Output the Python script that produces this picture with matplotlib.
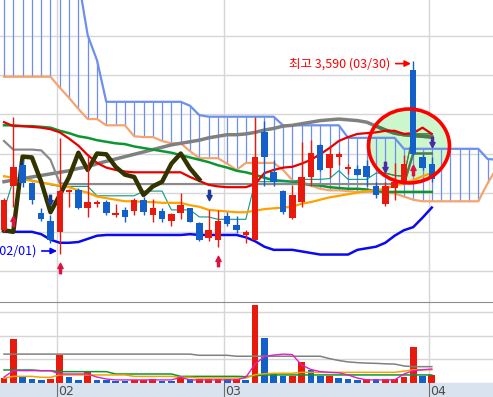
import numpy as np
import matplotlib.pyplot as plt
from matplotlib.patches import Ellipse
from matplotlib.path import Path
from matplotlib.transforms import offset_copy

# daily candles, last sessions of January up to 1 April
opens = [2510, 2790, 2925, 2810, 2620, 2570, 2500, 2755, 2770, 2655,
         2680, 2690, 2610, 2640, 2635, 2705, 2605, 2635, 2570, 2620,
         2650, 2555, 2460, 2450, 2600, 2545, 2480, 2450, 3140, 2880,
         2760, 2590, 2690, 2850, 3055, 2910, 2980, 2900, 2900, 2920,
         2790, 2680, 2780, 2820, 3535, 2980, 2935]
highs = [2715, 3235, 2960, 2815, 2655, 2605, 3100, 2775, 2780, 2995,
         2705, 2705, 2680, 2660, 2715, 2725, 2710, 2650, 2620, 2750,
         2655, 2565, 2640, 2640, 2625, 2600, 2510, 3235, 3205, 2960,
         2765, 2800, 3075, 3085, 3060, 3045, 3010, 2935, 2925, 2960,
         2820, 2820, 2940, 2990, 3590, 2995, 2975]
lows = [2500, 2660, 2785, 2680, 2570, 2430, 2360, 2660, 2645, 2595,
        2660, 2610, 2595, 2565, 2605, 2605, 2565, 2565, 2535, 2585,
        2560, 2440, 2440, 2405, 2535, 2490, 2430, 2445, 2790, 2790,
        2615, 2580, 2660, 2795, 2890, 2850, 2925, 2870, 2860, 2790,
        2715, 2665, 2705, 2815, 2990, 2895, 2815]
closes = [2705, 2915, 2810, 2705, 2585, 2450, 2760, 2770, 2655, 2690,
          2690, 2620, 2620, 2595, 2705, 2625, 2655, 2585, 2615, 2670,
          2565, 2450, 2510, 2570, 2550, 2510, 2500, 2980, 2975, 2820,
          2625, 2735, 2850, 3005, 2895, 3000, 2995, 2915, 2865, 2850,
          2735, 2790, 2820, 2935, 3000, 2905, 2835]

# volume (thousand shares) and bar colour r=up b=down
volume = [20, 186, 27, 18, 14, 18, 118, 27, 14, 46,
          14, 14, 10, 10, 14, 14, 17, 10, 10, 28,
          17, 17, 17, 17, 17, 17, 14, 329, 190, 38,
          31, 31, 90, 55, 31, 31, 21, 17, 14, 17,
          17, 17, 17, 27, 152, 31, 35]
vol_dir = "rrbbbrrbbrbbbbrrrbbrbrrrbrbrbbbrrbbrbbbrbrrrrbr"

# moving averages on price
ma_red = [3200, 3175, 3175, 3170, 3165, 3155, 3135, 3095, 3050, 2990,
          2940, 2910, 2895, 2885, 2880, 2880, 2880, 2880, 2880, 2880,
          2850, 2825, 2800, 2790, 2785, 2785, 2785, 2805, 2875, 2895,
          2910, 2915, 2935, 2960, 2995, 3035, 3080, 3105, 3125, 3130,
          3135, 3145, 3145, 3125, 3130, 3165, 3125]
ma_green = [3180, 3180, 3175, 3175, 3170, 3165, 3145, 3130, 3110, 3100,
            3085, 3075, 3065, 3060, 3045, 3035, 3025, 3015, 3005, 2990,
            2975, 2960, 2945, 2925, 2910, 2890, 2880, 2865, 2845, 2830,
            2825, 2820, 2810, 2800, 2795, 2785, 2780, 2775, 2775, 2770,
            2760, 2755, 2755, 2755, 2755, 2755, 2755]
ma_gray = [2820, 2830, 2840, 2850, 2860, 2870, 2880, 2890, 2905, 2915,
           2935, 2950, 2965, 2980, 2995, 3010, 3025, 3040, 3055, 3065,
           3075, 3085, 3100, 3110, 3120, 3120, 3125, 3135, 3150, 3160,
           3175, 3180, 3190, 3200, 3210, 3215, 3220, 3215, 3210, 3200,
           3175, 3150, 3130, 3120, 3115, 3110, 3105]
bb_mid = [2855, 2845, 2835, 2825, 2815, 2805, 2795, 2785, 2765, 2750,
          2725, 2715, 2705, 2695, 2695, 2690, 2690, 2685, 2685, 2685,
          2670, 2660, 2640, 2635, 2630, 2625, 2625, 2635, 2645, 2650,
          2655, 2660, 2680, 2690, 2705, 2720, 2730, 2740, 2750, 2760,
          2765, 2775, 2795, 2810, 2830, 2855, 2875]
bb_low = [2500, 2500, 2500, 2500, 2485, 2450, 2430, 2430, 2435, 2455,
          2475, 2480, 2480, 2480, 2480, 2480, 2480, 2480, 2480, 2480,
          2485, 2480, 2480, 2480, 2480, 2480, 2465, 2440, 2405, 2385,
          2385, 2385, 2375, 2365, 2355, 2355, 2355, 2355, 2385, 2395,
          2405, 2430, 2475, 2510, 2530, 2590, 2655]

# ichimoku
tenkan = [2640, 2830, 2845, 2830, 2815, 2800, 2790, 2790, 2790, 2790,
          2730, 2730, 2730, 2730, 2730, 2760, 2760, 2760, 2640, 2640,
          2640, 2595, 2595, 2580, 2580, 2580, 2580, 2820, 2820, 2820,
          2820, 2820, 2835, 2835, 2835, 2840, 2890, 2835, 2835, 2835,
          2875, 2875, 2860, 2855, 3125, 3125, 3125]
kijun = [3080, 3025, 3025, 3025, 3020, 2960, 2810, 2805, 2805, 2805,
         2805, 2805, 2805, 2805, 2805, 2805, 2805, 2805, 2805, 2805,
         2805, 2805, 2805, 2805, 2805, 2805, 2805, 2805, 2805, 2805,
         2805, 2805, 2805, 2805, 2805, 2805, 2805, 2805, 2805, 2805,
         2805, 2805, 2805, 2805, 3000, 3000, 3000]
span_b = [4150, 4150, 4150, 4150, 4150, 4150, 4150, 4150, 4110, 3755,
          3595, 3330, 3330, 3330, 3330, 3330, 3330, 3330, 3330, 3330,
          3305, 3245, 3235, 3235, 3235, 3235, 3235, 3235, 3235, 3235,
          3180, 3180, 3180, 3180, 3180, 3180, 3180, 3100, 3100, 3100,
          3100, 3100, 3100, 3030, 3030, 3030, 3030, 3030, 3030, 3030,
          3030, 3030, 2965, 2960]
span_a = [3490, 3490, 3490, 3490, 3490, 3490, 3420, 3355, 3285, 3220,
          3220, 3180, 3180, 3180, 3110, 3105, 3105, 3080, 3065, 3065,
          3015, 2970, 2970, 2970, 2935, 2895, 2940, 2940, 2940, 2940,
          2895, 2830, 2805, 2795, 2775, 2765, 2765, 2760, 2755, 2755,
          2755, 2750, 2745, 2725, 2705, 2695, 2695, 2695, 2695, 2695,
          2695, 2695, 2810, 2910]
lag = 25

# volume averages
vol_ma_green = [55, 55, 55, 55, 52, 52, 48, 48, 48, 48,
                48, 48, 38, 38, 38, 38, 38, 38, 38, 28,
                28, 28, 28, 28, 28, 28, 27, 30, 34, 34,
                34, 34, 34, 34, 34, 34, 34, 34, 34, 34,
                34, 34, 34, 34, 34, 34, 34]
vol_ma_orange = [20, 28, 28, 28, 24, 24, 34, 34, 34, 34,
                 34, 34, 34, 34, 28, 28, 28, 28, 28, 24,
                 24, 21, 21, 21, 21, 21, 21, 35, 39, 41,
                 41, 41, 45, 45, 45, 45, 45, 45, 45, 45,
                 45, 45, 45, 50, 56, 56, 56]
vol_ma_pink = [25, 52, 52, 52, 52, 52, 38, 38, 38, 38,
               25, 17, 13, 13, 13, 13, 13, 13, 13, 24,
               13, 13, 13, 13, 13, 13, 24, 80, 112, 118,
               122, 120, 76, 57, 48, 45, 43, 34, 21, 13,
               13, 13, 13, 38, 52, 56, 59]
vol_ma_gray = [122, 122, 122, 122, 122, 122, 122, 122, 122, 122,
               122, 122, 122, 122, 122, 122, 122, 122, 122, 122,
               122, 117, 117, 117, 117, 113, 113, 113, 113, 113,
               113, 113, 113, 113, 113, 103, 95, 89, 86, 84,
               83, 81, 80, 72, 69, 69, 69]

month_first = [6, 24, 46]
month_labels = ["02", "03", "04"]
buy_sig = [1, 6, 23, 44]
sell_sig = [5, 22]
sell_sig2 = [41, 46]
hi_date = "03/30"
lo_date = "02/01"

RED = "#e81a0e"
BLUE = "#1260c8"
GRID = "#d6d6d6"

idx = np.arange(len(closes))
cidx = np.arange(len(span_a))
o, h, l, c = (np.array(v, float) for v in (opens, highs, lows, closes))

fig = plt.figure(figsize=(4.93, 3.97), dpi=100)
fig.patch.set_facecolor("#d9e3ef")
ax = fig.add_axes([0, 95 / 397, 1, 302 / 397])
axv = fig.add_axes([0, 14 / 397, 1, 81 / 397])
axb = fig.add_axes([0, 0, 1, 14 / 397])

xlim = (-0.43, 52.58)
for a in (ax, axv, axb):
    a.set_xlim(*xlim)
    a.set_xticks([])
    a.set_yticks([])
ax.set_ylim(2052, 3980)
axv.set_ylim(0, 342)
axb.set_ylim(0, 1)
axb.set_facecolor("#d9e3ef")
for s in ax.spines.values():
    s.set_visible(False)
for s in axb.spines.values():
    s.set_visible(False)
axv.spines["left"].set_visible(False)
axv.spines["right"].set_visible(False)
axv.spines["top"].set_color("#8c8c8c")
axv.spines["bottom"].set_color("#8c8c8c")

# grid
for p in range(2250, 3751, 250):
    ax.axhline(p, color=GRID, lw=1, zorder=0.3)
for v in (100, 200, 300):
    axv.axhline(v, color=GRID, lw=1, zorder=0.3)
bounds = [m - 0.35 for m in month_first]
for b in bounds:
    ax.axvline(b, color=GRID, lw=1, zorder=0.3)
    axv.axvline(b, color=GRID, lw=1, zorder=0.3)
    axb.axvline(b, color="#6e6e6e", lw=0.8)
for b, lab in zip(bounds, month_labels):
    axb.text(b + 0.12, 0.14, lab, ha="left", va="baseline", fontsize=9,
             color="#4a4a4a", family=["Liberation Sans Narrow", "DejaVu Sans"])

# highlight circle fill
CIRC_C = (43.55, 3048)
CIRC_W, CIRC_H = 8.7, 472
disc = Ellipse(CIRC_C, CIRC_W, CIRC_H, facecolor="#ccf7cc", edgecolor="none", zorder=0.8)
ax.add_patch(disc)

# cloud
top = np.maximum(span_a, span_b)
bot = np.minimum(span_a, span_b)
ax.vlines(cidx, bot, top, color="#6d8fee", lw=0.9, zorder=1)
ax.plot(cidx, span_b, color="#6d8fee", lw=1.6, zorder=1.2)
ax.plot(cidx, span_a, color="#f5a470", lw=1.6, zorder=1.2)

# averages
ax.plot(idx, ma_gray, color="#808080", lw=2.5, zorder=2)
ax.plot(idx, ma_green, color="#0c9632", lw=1.8, zorder=2)
ax.plot(idx, ma_red, color="#e60000", lw=1.6, zorder=2.1)
ax.plot(idx, kijun, color="#8a8a8a", lw=1.6, zorder=2)
ax.plot(idx, tenkan, color="#0a9a80", lw=0.8, zorder=2)
ax.plot(idx, bb_mid, color="#ffa200", lw=1.6, zorder=2)
ax.plot(idx, bb_low, color="#0a0af0", lw=1.8, zorder=2)
for vals, lw in ((ma_gray, 2.5), (kijun, 1.6), (tenkan, 0.9)):
    ln, = ax.plot(idx, vals, color="#4b7d4b", lw=lw, zorder=2.05)
    ln.set_clip_path(disc)
ax.plot(idx[:-lag], c[lag:], color="#333300", lw=3.2, zorder=2.5,
        solid_joinstyle="round")

# candles
up = c >= o
cols = np.where(up, RED, BLUE)
ax.vlines(idx, l, h, colors=cols, lw=1, zorder=3)
ax.bar(idx, np.maximum(np.abs(c - o), 9), bottom=np.minimum(o, c), width=0.7,
       color=cols, linewidth=0, zorder=3.1)

# signal arrows
arrow = Path([(-0.2, -1), (0.2, -1), (0.2, 0), (0.5, 0), (0, 1), (-0.5, 0),
              (-0.2, 0), (-0.2, -1)], closed=True)
arrow_dn = Path(arrow.vertices * [1, -1], closed=True)
below = offset_copy(ax.transData, fig=fig, y=-10.5, units="points")
above = offset_copy(ax.transData, fig=fig, y=10.8, units="points")
ax.plot(buy_sig, l[buy_sig], ls="none", marker=arrow, ms=7.5, color="#dc1240",
        transform=below, zorder=4)
ax.plot(sell_sig, h[sell_sig], ls="none", marker=arrow_dn, ms=7.5, color="#1c3c9c",
        transform=above, zorder=4)
ax.plot(sell_sig2, h[sell_sig2], ls="none", marker=arrow_dn, ms=7.5, color="#4a2ca6",
        transform=above, zorder=4)

# ring
ax.add_patch(Ellipse(CIRC_C, CIRC_W, CIRC_H, fill=False, edgecolor="#ff0000",
                     lw=2.6, zorder=6))

# high / low labels
kfont = ["Noto Sans CJK KR", "DejaVu Sans"]
hi_i = int(np.argmax(h))
lo_i = int(np.argmin(l))
tip_hi = offset_copy(ax.transData, fig=fig, x=-1.6, y=-1.8, units="points")
ax.annotate("", xy=(hi_i, h[hi_i]), xycoords=tip_hi, xytext=(-11, 0),
            textcoords="offset points", zorder=7,
            arrowprops=dict(arrowstyle="-|>", color="#ff0000", lw=1.2,
                            mutation_scale=9, shrinkA=0, shrinkB=0))
ax.annotate(f"최고 {int(h[hi_i]):,} ({hi_date})", xy=(hi_i, h[hi_i]),
            xytext=(-16.7, -1.8), textcoords="offset points", ha="right",
            va="center", fontsize=9, color="#ff0000", family=kfont, zorder=7)
tip_lo = offset_copy(ax.transData, fig=fig, x=-2, y=2, units="points")
ax.annotate("", xy=(lo_i, l[lo_i]), xycoords=tip_lo, xytext=(-11, 0),
            textcoords="offset points", zorder=7,
            arrowprops=dict(arrowstyle="-|>", color="#0000ff", lw=1.2,
                            mutation_scale=9, shrinkA=0, shrinkB=0))
ax.annotate(f"최저 {int(l[lo_i]):,} ({lo_date})", xy=(lo_i, l[lo_i]),
            xytext=(-17.1, 2), textcoords="offset points", ha="right",
            va="center", fontsize=9, color="#0000ff", family=kfont, zorder=7)

# volume pane
vcols = [RED if d == "r" else BLUE for d in vol_dir]
axv.bar(idx, volume, width=0.72, color=vcols, linewidth=0, zorder=2)
axv.plot(idx, vol_ma_gray, color="#808080", lw=1.1, zorder=3)
axv.plot(idx, vol_ma_green, color="#0c9632", lw=1.1, zorder=3)
axv.plot(idx, vol_ma_orange, color="#f0a400", lw=1.1, zorder=3)
axv.plot(idx, vol_ma_pink, color="#e020c0", lw=1.0, zorder=3)

fig.savefig("out.png", dpi=100)
